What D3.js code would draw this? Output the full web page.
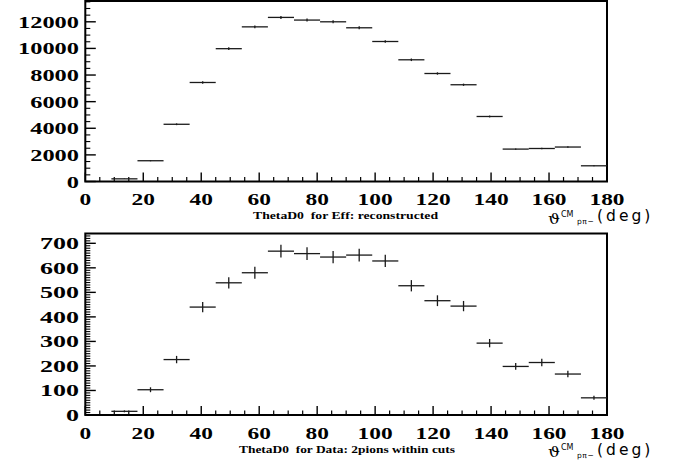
<!DOCTYPE html>
<html><head><meta charset="utf-8">
<script src="https://cdn.jsdelivr.net/npm/d3@7"></script>
<style>
body{margin:0;background:#fff}svg{display:block}
.serif{font-family:'Liberation Serif','Times New Roman','DejaVu Serif',serif;font-weight:bold}
.sans{font-family:'DejaVu Sans','Liberation Sans',sans-serif;font-weight:normal}
</style>
</head><body>
<script>
// bin edges (deg), 20 bins of 9 deg
const binEdges = [0,9,18,27,36,45,54,63,72,81,90,99,108,117,126,135,144,153,162,171,180];
// Top panel: ThetaD0 for Eff: reconstructed
const effValues = [0,200,1560,4300,7440,9980,11620,12330,12130,12000,11550,10520,9145,8115,7270,4885,2435,2480,2590,1180];
const effErrors = [0,14,40,66,86,100,108,111,110,110,107,103,96,90,85,70,49,50,51,34];
// Bottom panel: ThetaD0 for Data: 2pions within cuts
const dataValues = [0,15,103,226,440,539,580,668,658,644,652,628,527,466,444,293,198,214,167,70];
const dataErrors = [0,4,10,15,21,23,24,26,26,25,26,25,23,22,21,17,14,15,13,8];
const xTicks = [0,20,40,60,80,100,120,140,160,180];
const effYTicks = [0,2000,4000,6000,8000,10000,12000];
const dataYTicks = [0,100,200,300,400,500,600,700];
const titles = ["ThetaD0  for Eff: reconstructed", "ThetaD0  for Data: 2pions within cuts"];

const W = 678, H = 468;
const svg = d3.select("body").append("svg").attr("width", W).attr("height", H);

const panels = [
  {values: effValues, errors: effErrors, yTicks: effYTicks, yMax: 13563, top: 1, bottom: 181.5, minorStep: 500, title: titles[0], titleX: 253, titleLen: 185, yDigitW: 12.2},
  {values: dataValues, errors: dataErrors, yTicks: dataYTicks, yMax: 740, top: 233.5, bottom: 415, minorStep: 10, title: titles[1], titleX: 239, titleLen: 216, yDigitW: 13}
];

const left = 85.3, right = 607;

panels.forEach(p => {
  const g = svg.append("g");
  const x = d3.scaleLinear().domain([0,180]).range([left, right]);
  const y = d3.scaleLinear().domain([0, p.yMax]).range([p.bottom, p.top]);

  const xMinor = d3.range(0, 181, 5).filter(v => v % 20 !== 0);
  g.selectAll(null).data(xMinor).enter().append("line")
    .attr("x1", d => x(d)).attr("x2", d => x(d))
    .attr("y1", p.bottom).attr("y2", p.bottom - 4.5)
    .attr("stroke", "#000").attr("stroke-width", 1.2);
  g.selectAll(null).data(xTicks).enter().append("line")
    .attr("x1", d => x(d)).attr("x2", d => x(d))
    .attr("y1", p.bottom).attr("y2", p.bottom - 9)
    .attr("stroke", "#000").attr("stroke-width", 1.4);
  const yMinor = d3.range(0, p.yMax, p.minorStep).filter(v => !p.yTicks.includes(v));
  g.selectAll(null).data(yMinor).enter().append("line")
    .attr("x1", left).attr("x2", left + 5)
    .attr("y1", d => y(d)).attr("y2", d => y(d))
    .attr("stroke", "#000").attr("stroke-width", 1.1);
  g.selectAll(null).data(p.yTicks).enter().append("line")
    .attr("x1", left).attr("x2", left + 10.5)
    .attr("y1", d => y(d)).attr("y2", d => y(d))
    .attr("stroke", "#000").attr("stroke-width", 1.4);

  g.append("rect").attr("x", left).attr("y", p.top)
    .attr("width", right - left).attr("height", p.bottom - p.top)
    .attr("fill", "none").attr("stroke", "#000").attr("stroke-width", 2);

  g.selectAll(null).data(xTicks).enter().append("text")
    .attr("class", "serif")
    .attr("x", d => x(d)).attr("y", p.bottom + 23.5)
    .attr("text-anchor", "middle")
    .attr("font-size", 17.5)
    .attr("textLength", d => String(d).length * 11.7)
    .attr("lengthAdjust", "spacingAndGlyphs")
    .text(d => d);
  g.selectAll(null).data(p.yTicks).enter().append("text")
    .attr("class", "serif")
    .attr("x", 79).attr("y", d => y(d) + 6)
    .attr("text-anchor", "end")
    .attr("font-size", 17.5)
    .attr("textLength", d => String(d).length * p.yDigitW)
    .attr("lengthAdjust", "spacingAndGlyphs")
    .text(d => d);

  const bins = p.values.map((v, i) => ({lo: binEdges[i], hi: binEdges[i+1], v, e: p.errors[i]})).filter(b => b.v > 0);
  g.selectAll(null).data(bins).enter().append("line")
    .attr("x1", b => x(b.lo)).attr("x2", b => x(b.hi))
    .attr("y1", b => y(b.v)).attr("y2", b => y(b.v))
    .attr("stroke", "#1a1a1a").attr("stroke-width", 1.3);
  g.selectAll(null).data(bins).enter().append("line")
    .attr("x1", b => x((b.lo + b.hi) / 2)).attr("x2", b => x((b.lo + b.hi) / 2))
    .attr("y1", b => y(b.v - b.e)).attr("y2", b => y(b.v + b.e))
    .attr("stroke", "#1a1a1a").attr("stroke-width", 1.3);

  g.append("text").attr("class", "serif")
    .attr("x", p.titleX).attr("y", p.bottom + 37.5)
    .attr("font-size", 10)
    .attr("textLength", p.titleLen).attr("lengthAdjust", "spacingAndGlyphs")
    .style("white-space", "pre")
    .text(p.title);

  const off = p.bottom - 181.5;
  g.append("text").attr("x", 548).attr("y", 223.5 + off)
    .style("font-family", "'DejaVu Serif', serif").attr("font-size", 15)
    .attr("textLength", 12).attr("lengthAdjust", "spacingAndGlyphs")
    .text("ϑ");
  g.append("text").attr("class", "sans").attr("x", 561).attr("y", 216.5 + off)
    .attr("font-size", 8)
    .text("CM");
  g.append("text").attr("class", "sans").attr("x", 577).attr("y", 224 + off)
    .attr("font-size", 7.5)
    .attr("letter-spacing", 0.6)
    .text("pπ−");
  g.append("text").attr("class", "sans").attr("x", 597).attr("y", 221 + off)
    .attr("font-size", 15.5)
    .attr("letter-spacing", 3)
    .text("(deg)");
});
</script>
</body></html>
